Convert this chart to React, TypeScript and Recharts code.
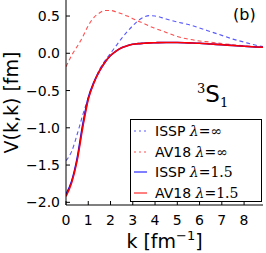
import React from "react";
import { LineChart, Line, XAxis, YAxis, Legend } from "recharts";

// momentum grid k [fm^-1]
const kValues = [0, 0.25, 0.5, 0.75, 1, 1.25, 1.5, 1.75, 2, 2.25, 2.5, 2.75, 3, 3.25, 3.5, 3.75, 4, 4.5, 5, 5.5, 6, 6.5, 7, 7.5, 8, 8.5, 8.85];

// V(k,k) [fm]
const isspInf = [-1.44, -1.32, -1.09, -0.83, -0.6, -0.4, -0.22, -0.1, 0.0, 0.1, 0.2, 0.29, 0.37, 0.44, 0.485, 0.505, 0.5, 0.46, 0.42, 0.385, 0.34, 0.29, 0.24, 0.19, 0.15, 0.11, 0.09];
const av18Inf = [-0.18, -0.03, 0.09, 0.22, 0.37, 0.48, 0.54, 0.575, 0.575, 0.555, 0.53, 0.5, 0.465, 0.43, 0.4, 0.365, 0.335, 0.28, 0.225, 0.19, 0.165, 0.15, 0.13, 0.115, 0.1, 0.09, 0.085];
const issp15 = [-1.89, -1.72, -1.41, -0.96, -0.6, -0.39, -0.24, -0.12, -0.03, 0.03, 0.075, 0.1, 0.12, 0.13, 0.135, 0.14, 0.142, 0.145, 0.145, 0.14, 0.135, 0.125, 0.115, 0.105, 0.095, 0.085, 0.08];
const av1815 = [-1.92, -1.74, -1.44, -1.0, -0.62, -0.4, -0.24, -0.12, -0.03, 0.03, 0.075, 0.1, 0.12, 0.13, 0.135, 0.14, 0.142, 0.145, 0.145, 0.14, 0.135, 0.125, 0.115, 0.105, 0.095, 0.085, 0.08];

const xTicks = [0, 1, 2, 3, 4, 5, 6, 7, 8];
const yTicks = [-2, -1.5, -1, -0.5, 0, 0.5];

const series = [
  { key: "isspInf", name: "ISSP", lam: "\u221e", color: "#3b3bff", dash: "4 3", width: 1.1, opacity: 0.85 },
  { key: "av18Inf", name: "AV18", lam: "\u221e", color: "#ff3030", dash: "4 3", width: 1.1, opacity: 0.85 },
  { key: "issp15", name: "ISSP", lam: "1.5", color: "#0000ff", dash: undefined, width: 1.6, opacity: 1 },
  { key: "av1815", name: "AV18", lam: "1.5", color: "#ff0000", dash: undefined, width: 1.6, opacity: 1 },
];

const data = kValues.map((k, i) => ({
  k,
  isspInf: isspInf[i],
  av18Inf: av18Inf[i],
  issp15: issp15[i],
  av1815: av1815[i],
}));

const SANS = "'DejaVu Sans', sans-serif";
const SERIF = "'DejaVu Serif', serif";
const fmtY = (v: number) => (v < 0 ? "\u2212" : "") + Math.abs(v).toFixed(1);

const BottomTick = ({ x, y, payload }: any) => (
  <g>
    <line x1={x} y1={y} x2={x} y2={y - 4} stroke="#000" />
    <text x={x} y={y + 20} textAnchor="middle" fontSize={14} fontFamily={SANS} fill="#000">
      {payload.value}
    </text>
  </g>
);
const TopTick = ({ x, y }: any) => <line x1={x} y1={y} x2={x} y2={y + 4} stroke="#000" />;
const LeftTick = ({ x, y, payload }: any) => (
  <g>
    <line x1={x} y1={y} x2={x + 4} y2={y} stroke="#000" />
    <text x={x - 6} y={y + 5} textAnchor="end" fontSize={14} fontFamily={SANS} fill="#000">
      {fmtY(payload.value)}
    </text>
  </g>
);
const RightTick = ({ x, y }: any) => <line x1={x} y1={y} x2={x - 4} y2={y} stroke="#000" />;

const LegendBox = () => (
  <div
    style={{
      width: 132, height: 83, boxSizing: "border-box", border: "1px solid #000",
      background: "#fff", paddingTop: 1,
    }}
  >
    {series.map((s) => (
      <div key={s.key} style={{ display: "flex", alignItems: "center", height: 20.5 }}>
        <svg width={22} height={4} style={{ marginLeft: 2 }}>
          <line x1={1} y1={2} x2={14} y2={2} stroke={s.color} strokeWidth={1}
            strokeDasharray={s.dash ? "2 3" : undefined} strokeOpacity={s.opacity} />
        </svg>
        <span style={{ fontFamily: SANS, fontSize: 14, color: "#000", whiteSpace: "nowrap" }}>
          {s.name}{" "}
          <span style={{ fontFamily: SERIF, fontStyle: "italic", fontSize: 14 }}>{"\u03bb"}</span>
          <span style={{ fontFamily: SERIF, fontSize: 14 }}>={s.lam}</span>
        </span>
      </div>
    ))}
  </div>
);

export default function App() {
  return (
    <div style={{ position: "absolute", left: 0, top: 0, width: 266, height: 253, background: "#fff" }}>
      <LineChart width={266} height={253} data={data} margin={{ top: 0, right: 3, bottom: 0, left: 0 }}>
        <XAxis
          dataKey="k" type="number" domain={[0, 8.85]} ticks={xTicks} allowDataOverflow
          height={48} tickSize={0} tickMargin={0} tick={BottomTick} axisLine={{ stroke: "#000" }}
          label={{
            content: ({ viewBox }: any) => (
              <text x={viewBox.x + viewBox.width / 2} y={248} textAnchor="middle" fontSize={19} fontFamily={SANS} fill="#000">
                k [fm<tspan fontSize={13} dy={-8}>{"\u22121"}</tspan><tspan dy={8}>]</tspan>
              </text>
            ),
          }}
        />
        <XAxis
          xAxisId="top" orientation="top" type="number" domain={[0, 8.85]} ticks={xTicks} allowDataOverflow
          height={0} tickSize={0} tickMargin={0} tick={TopTick} axisLine={{ stroke: "#000" }}
        />
        <YAxis
          type="number" domain={[-2.036, 0.715]} ticks={yTicks} allowDataOverflow
          width={66} tickSize={0} tickMargin={0} tick={LeftTick} axisLine={{ stroke: "#000" }}
          label={{
            content: ({ viewBox }: any) => {
              const cy = viewBox.y + viewBox.height / 2;
              return (
                <text x={11} y={cy} transform={`rotate(-90 11 ${cy})`} textAnchor="middle" dominantBaseline="central"
                  fontSize={19} fontFamily={SANS} fill="#000">
                  V(k,k) [fm]
                </text>
              );
            },
          }}
        />
        <YAxis
          yAxisId="right" orientation="right" type="number" domain={[-2.036, 0.715]} ticks={yTicks} allowDataOverflow
          width={0} tickSize={0} tickMargin={0} tick={RightTick} axisLine={{ stroke: "#000" }}
        />
        {series.map((s) => (
          <Line
            key={s.key} dataKey={s.key} type="monotone" stroke={s.color} strokeWidth={s.width}
            strokeDasharray={s.dash} strokeOpacity={s.opacity} dot={false} isAnimationActive={false}
          />
        ))}
        <Legend
          layout="vertical" align="center" verticalAlign="middle"
          wrapperStyle={{ left: 130, top: 119, width: 132, height: 83 }}
          content={() => <LegendBox />}
        />
      </LineChart>
      <div style={{ position: "absolute", left: 233, top: 5, fontFamily: SANS, fontSize: 16, lineHeight: "20px" }}>(b)</div>
      <div style={{ position: "absolute", left: 197, top: 82, whiteSpace: "nowrap", lineHeight: 1 }}>
        <span style={{ fontFamily: SERIF, fontSize: 13, verticalAlign: 9 }}>3</span>
        <span style={{ fontFamily: SANS, fontSize: 23 }}>S</span>
        <span style={{ fontFamily: SERIF, fontSize: 13, verticalAlign: -5 }}>1</span>
      </div>
    </div>
  );
}
